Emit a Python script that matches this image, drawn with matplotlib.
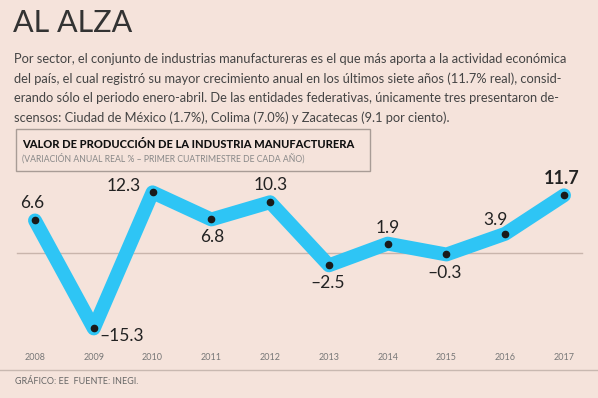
import matplotlib
matplotlib.use("Agg")
from matplotlib import pyplot as plt
from matplotlib import transforms

# data
years = [2008, 2009, 2010, 2011, 2012, 2013, 2014, 2015, 2016, 2017]
values = [6.6, -15.3, 12.3, 6.8, 10.3, -2.5, 1.9, -0.3, 3.9, 11.7]
labels = ["6.6", "–15.3", "12.3", "6.8", "10.3", "–2.5", "1.9", "–0.3", "3.9", "11.7"]

title = "AL ALZA"
body = ["Por sector, el conjunto de industrias manufactureras es el que más aporta a la actividad económica",
        "del país, el cual registró su mayor crecimiento anual en los últimos siete años (11.7% real), consid-",
        "erando sólo el periodo enero-abril. De las entidades federativas, únicamente tres presentaron de-",
        "scensos: Ciudad de México (1.7%), Colima (7.0%) y Zacatecas (9.1 por ciento)."]
box_title = "VALOR DE PRODUCCIÓN DE LA INDUSTRIA MANUFACTURERA"
box_sub = "(VARIACIÓN ANUAL REAL % – PRIMER CUATRIMESTRE DE CADA AÑO)"
footer = "GRÁFICO: EE  FUENTE: INEGI."

BG = "#F5E3DB"
BLUE = "#2EC5F5"
W, H = 598, 398


def px(x, y):
    return x / W, 1 - y / H


fig = plt.figure(figsize=(5.98, 3.98), dpi=100, facecolor=BG)
ax = fig.add_axes([0, 0, 1, 1])
ax.set_facecolor(BG)
ax.set_xlim(2007.405, 2017.578)
ax.set_ylim(-29.4, 51.3)
ax.axis('off')

# zero line
ax.plot([2007.7, 2017.3], [0, 0], color="#C9B5AC", lw=1, zorder=1)

ax.plot(years, values, color=BLUE, lw=10, solid_capstyle='round',
        solid_joinstyle='round', zorder=2)
ax.plot(years, values, 'o', color="#1A1A1A", ms=4.5, zorder=3)

# value labels: (dx px, dy px, ha)
offs = [(-3, -17, 'center'), (6, 8, 'left'), (-12, -6, 'right'), (1, 18, 'center'),
        (1, -17, 'center'), (-1, 18, 'center'), (0, -16, 'center'), (-2, 19, 'center'),
        (-10, -14, 'center'), (-2, -17, 'center')]
for yr, v, lab, (dx, dy, ha) in zip(years, values, labels, offs):
    bold = yr == 2017
    ax.annotate(lab, (yr, v), xytext=(dx * 0.72, -dy * 0.72), textcoords='offset points',
                ha=ha, va='center', fontsize=13 if bold else 12.5,
                fontweight='bold' if bold else 'normal', color="#222222",
                family='Lato')

# year labels
tr = transforms.blended_transform_factory(ax.transData, fig.transFigure)
for yr in years:
    ax.text(yr, 1 - 357 / H, str(yr), transform=tr, ha='center', va='center',
            fontsize=6.5, color="#777777", family='Lato')

# separator line
fig.add_artist(plt.Line2D([0, 1], [1 - 370 / H] * 2, color="#C8B8B0", lw=1))

# footer
fig.text(*px(15, 382), footer, fontsize=6.5, color="#666666", va='center',
         family='Lato')

# title and body
fig.text(*px(13, 23), title, fontsize=22, color="#333333", va='center',
         family='Lato')
for i, line in enumerate(body):
    fig.text(*px(14, 59 + i * 19.7), line, fontsize=9.3, color="#444444", va='center',
             family='Lato')

# box
box = plt.Rectangle(px(16, 171), 354 / W, 42 / H, transform=fig.transFigure,
                    fill=False, edgecolor="#A89C96", lw=1)
fig.add_artist(box)
fig.text(*px(22, 144), box_title, fontsize=8, fontweight=900, color="#111111",
         va='center', family='Lato')
fig.text(*px(22, 158), box_sub, fontsize=6.2, color="#888888", va='center',
         family='Lato')

fig.savefig("out.png", dpi=100, facecolor=BG)
